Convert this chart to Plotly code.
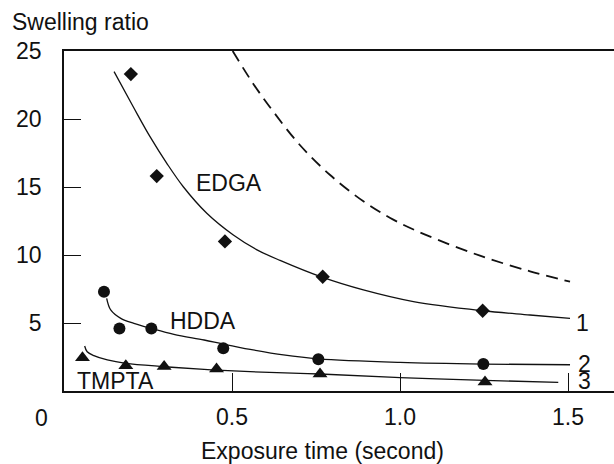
import plotly.graph_objects as go

# Measured swelling ratios vs. UV exposure time
edga_t = [0.199, 0.276, 0.479, 0.770, 1.246]
edga_sr = [23.3, 15.8, 11.0, 8.4, 5.9]

hdda_t = [0.119, 0.165, 0.260, 0.474, 0.757, 1.248]
hdda_sr = [7.3, 4.6, 4.6, 3.14, 2.33, 1.98]

tmpta_t = [0.055, 0.184, 0.298, 0.454, 0.762, 1.253]
tmpta_sr = [2.45, 1.85, 1.80, 1.62, 1.25, 0.66]

# Fitted trend curves (1: EDGA, 2: HDDA, 3: TMPTA) and the dashed reference curve
fit1_t = [0.149, 0.206, 0.256, 0.306, 0.355, 0.425, 0.504, 0.573, 0.643, 0.770, 0.891, 1.040, 1.246, 1.387, 1.506]
fit1_sr = [23.48, 20.9, 18.7, 16.74, 15.02, 13.07, 11.47, 10.4, 9.6, 8.35, 7.43, 6.57, 5.9, 5.59, 5.34]

fit2_t = [0.127, 0.139, 0.169, 0.208, 0.260, 0.327, 0.417, 0.474, 0.554, 0.653, 0.757, 1.000, 1.248, 1.506]
fit2_sr = [6.81, 5.96, 5.34, 4.97, 4.6, 4.17, 3.75, 3.45, 3.06, 2.65, 2.36, 2.1, 1.98, 1.93]

fit3_t = [0.0615, 0.069, 0.089, 0.129, 0.184, 0.298, 0.417, 0.554, 0.762, 1.000, 1.253, 1.471]
fit3_sr = [3.31, 2.89, 2.6, 2.28, 2.03, 1.79, 1.59, 1.42, 1.25, 0.98, 0.78, 0.64]

dash_t = [0.502, 0.563, 0.623, 0.702, 0.792, 0.891, 0.980, 1.075, 1.238, 1.387, 1.506]
dash_sr = [25.0, 22.6, 20.54, 18.09, 15.88, 13.95, 12.6, 11.5, 9.95, 8.8, 8.04]

x_ticks = [0.5, 1.0, 1.5]
x_tick_text = ["0.5", "1.0", "1.5"]
y_ticks = [5, 10, 15, 20, 25]
y_tick_text = ["5", "10", "15", "20", "25"]

FONT = "Liberation Sans, Arial, Helvetica, sans-serif"
INK = "#111111"

fig = go.Figure()

line_style = dict(color=INK, width=1.3, shape="spline", smoothing=1.0)
for t, sr in [(fit1_t, fit1_sr), (fit2_t, fit2_sr), (fit3_t, fit3_sr)]:
    fig.add_trace(go.Scatter(x=t, y=sr, mode="lines", line=line_style,
                             hoverinfo="skip", showlegend=False))
fig.add_trace(go.Scatter(x=dash_t, y=dash_sr, mode="lines",
                         line=dict(color=INK, width=1.8, dash="12px,7px",
                                   shape="spline", smoothing=1.0),
                         hoverinfo="skip", showlegend=False))

fig.add_trace(go.Scatter(x=edga_t, y=edga_sr, mode="markers", name="EDGA",
                         marker=dict(symbol="diamond", size=11, color=INK),
                         showlegend=False))
fig.add_trace(go.Scatter(x=hdda_t, y=hdda_sr, mode="markers", name="HDDA",
                         marker=dict(symbol="circle", size=12, color=INK),
                         showlegend=False))
fig.add_trace(go.Scatter(x=tmpta_t, y=tmpta_sr, mode="markers", name="TMPTA",
                         marker=dict(symbol="triangle-up", size=13, color=INK),
                         showlegend=False))

labels = [
    ("EDGA", 0.491, 15.3),
    ("HDDA", 0.414, 5.15),
    ("TMPTA", 0.152, 0.7),
    ("1", 1.542, 5.0),
    ("2", 1.548, 1.98),
    ("3", 1.548, 0.76),
]
for text, x, y in labels:
    fig.add_annotation(x=x, y=y, text=text, showarrow=False,
                       font=dict(family=FONT, size=23, color=INK))

# shared origin label
fig.add_annotation(x=0, y=0, text="0", showarrow=False, xshift=-23, yshift=-27,
                   font=dict(family=FONT, size=23, color=INK))

fig.add_annotation(xref="paper", yref="paper", x=-0.098, y=1.0, yshift=29,
                   xanchor="left", yanchor="middle", text="Swelling ratio",
                   showarrow=False, font=dict(family=FONT, size=23, color=INK))
fig.add_annotation(xref="paper", yref="paper", x=0.47, y=0, yshift=-60,
                   yanchor="middle", text="Exposure time (second)",
                   showarrow=False, font=dict(family=FONT, size=23, color=INK))

axis_common = dict(showgrid=False, zeroline=False, showline=True, linecolor=INK,
                   linewidth=1.5, ticks="inside", tickcolor=INK, tickwidth=1.2,
                   tickfont=dict(family=FONT, size=23, color=INK))

fig.update_xaxes(range=[0, 550 / 336], tickvals=x_ticks, ticktext=x_tick_text,
                 ticklen=18, mirror=True, ticklabelstandoff=5, **axis_common)
fig.update_yaxes(range=[0, 25], tickvals=y_ticks, ticktext=y_tick_text,
                 ticklen=17, ticklabelstandoff=16, **axis_common)

fig.update_layout(width=614, height=464, margin=dict(l=64, r=0, t=51, b=73),
                  plot_bgcolor="white", paper_bgcolor="white",
                  font=dict(family=FONT, color=INK))

fig.write_html("out.html")
